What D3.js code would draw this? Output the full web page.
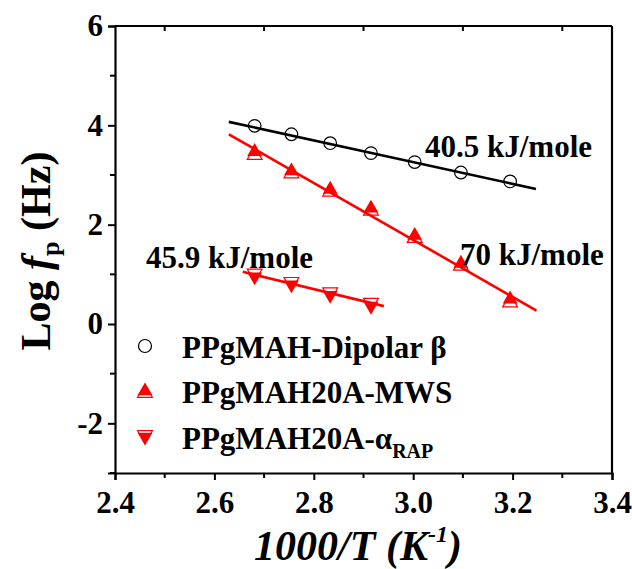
<!DOCTYPE html>
<html>
<head>
<meta charset="utf-8">
<script src="https://cdn.jsdelivr.net/npm/d3@7"></script>
<style>
  html, body { margin: 0; padding: 0; background: #fff; }
  svg { display: block; }
  text { font-family: "Liberation Serif", "Times New Roman", serif; font-weight: bold; }
</style>
</head>
<body>
<svg id="chart" width="632" height="569"></svg>
<script>
// ---- data ----
const invT = [2.681, 2.755, 2.833, 2.915, 3.003, 3.096, 3.195];
const dipolarBeta = [3.99, 3.82, 3.64, 3.44, 3.26, 3.05, 2.87];
const mwsFilled = [3.47, 3.08, 2.71, 2.33, 1.78, 1.22, 0.50];
const mwsOpen = [3.40, 3.03, 2.66, 2.28, 1.73, 1.17, 0.43];
const invTRap = [2.681, 2.755, 2.833, 2.915];
const rapFilled = [0.95, 0.79, 0.58, 0.36];
const rapOpen = [1.02, 0.85, 0.64, 0.43];
const fitBetaX = [2.629, 3.247];
const fitBetaY = [4.07, 2.72];
const fitMwsX = [2.629, 3.248];
const fitMwsY = [3.82, 0.27];
const fitRapX = [2.657, 2.941];
const fitRapY = [1.05, 0.36];
const xTicks = [2.4, 2.6, 2.8, 3.0, 3.2, 3.4];
const yTicks = [-2, 0, 2, 4, 6];
const legendLabels = ["PPgMAH-Dipolar β", "PPgMAH20A-MWS", "PPgMAH20A-α"];
const annotationTexts = ["40.5 kJ/mole", "70 kJ/mole", "45.9 kJ/mole"];

const svg = d3.select("#chart");
const x = d3.scaleLinear().domain([2.4, 3.4]).range([115, 612]);
const y = d3.scaleLinear().domain([-3, 6]).range([473, 26]);
const red = "#ff0000";
const FS = 31;

// frame top & right
svg.append("line").attr("x1", 115).attr("x2", 612).attr("y1", y(6)).attr("y2", y(6))
  .attr("stroke", "#000").attr("stroke-width", 2.2);
svg.append("line").attr("x1", 612).attr("x2", 612).attr("y1", y(6)).attr("y2", y(-3))
  .attr("stroke", "#000").attr("stroke-width", 2.2);

// top ticks (inward, odd tenths)
svg.append("g").selectAll("line").data(d3.range(2.5, 3.35, 0.2)).join("line")
  .attr("x1", d => x(d)).attr("x2", d => x(d)).attr("y1", y(6)).attr("y2", y(6) + 5)
  .attr("stroke", "#000").attr("stroke-width", 2);

// bottom axis
const xAxis = d3.axisBottom(x).tickValues(xTicks).tickFormat(d3.format(".1f")).tickSize(7).tickPadding(11);
const gx = svg.append("g").attr("transform", `translate(0,${y(-3)})`).call(xAxis);
gx.select(".domain").attr("stroke-width", 2.2);
gx.selectAll(".tick line").attr("stroke-width", 2);
gx.selectAll("text").attr("font-size", FS).attr("font-family", "Liberation Serif").attr("font-weight", "bold").attr("fill", "#000");
svg.append("g").selectAll("line").data(d3.range(2.5, 3.35, 0.2)).join("line")
  .attr("x1", d => x(d)).attr("x2", d => x(d)).attr("y1", y(-3)).attr("y2", y(-3) + 5)
  .attr("stroke", "#000").attr("stroke-width", 2);

// left axis
const yAxis = d3.axisLeft(y).tickValues(yTicks).tickFormat(d => String(d)).tickSize(7).tickPadding(5);
const gy = svg.append("g").attr("transform", `translate(115,0)`).call(yAxis);
gy.select(".domain").attr("stroke-width", 2.2);
gy.selectAll(".tick line").attr("stroke-width", 2);
gy.selectAll("text").attr("font-size", FS).attr("font-family", "Liberation Serif").attr("font-weight", "bold").attr("fill", "#000");
svg.append("g").selectAll("line").data([-3, -1, 1, 3, 5]).join("line")
  .attr("x1", 115).attr("x2", 110).attr("y1", d => y(d)).attr("y2", d => y(d))
  .attr("stroke", "#000").attr("stroke-width", 2);

// fit lines
const line = d3.line().x(d => x(d[0])).y(d => y(d[1]));
svg.append("path").attr("d", line(d3.zip(fitBetaX, fitBetaY))).attr("stroke", "#000").attr("stroke-width", 2.6).attr("fill", "none");
svg.append("path").attr("d", line(d3.zip(fitMwsX, fitMwsY))).attr("stroke", red).attr("stroke-width", 2.6).attr("fill", "none");
svg.append("path").attr("d", line(d3.zip(fitRapX, fitRapY))).attr("stroke", red).attr("stroke-width", 2.6).attr("fill", "none");

const tri = d3.symbol().type(d3.symbolTriangle).size(95);

// markers
svg.append("g").selectAll("circle").data(d3.zip(invT, dipolarBeta)).join("circle")
  .attr("cx", d => x(d[0])).attr("cy", d => y(d[1])).attr("r", 6.3)
  .attr("fill", "none").attr("stroke", "#000").attr("stroke-width", 1.2);
svg.append("g").selectAll("path").data(d3.zip(invT, mwsOpen)).join("path")
  .attr("d", tri()).attr("transform", d => `translate(${x(d[0])},${y(d[1])})`)
  .attr("fill", "none").attr("stroke", red).attr("stroke-width", 1.2);
svg.append("g").selectAll("path").data(d3.zip(invT, mwsFilled)).join("path")
  .attr("d", tri()).attr("transform", d => `translate(${x(d[0])},${y(d[1])})`)
  .attr("fill", red);
svg.append("g").selectAll("path").data(d3.zip(invTRap, rapOpen)).join("path")
  .attr("d", tri()).attr("transform", d => `translate(${x(d[0])},${y(d[1])}) rotate(180)`)
  .attr("fill", "none").attr("stroke", red).attr("stroke-width", 1.2);
svg.append("g").selectAll("path").data(d3.zip(invTRap, rapFilled)).join("path")
  .attr("d", tri()).attr("transform", d => `translate(${x(d[0])},${y(d[1])}) rotate(180)`)
  .attr("fill", red);

// annotations
const annPos = [[425, 157], [460, 265], [146, 268]];
annotationTexts.forEach((t, i) => {
  svg.append("text").attr("x", annPos[i][0]).attr("y", annPos[i][1]).attr("font-size", FS).text(t);
});

// legend
const lg = svg.append("g");
const rows = [346, 391, 437];
lg.append("circle").attr("cx", 145).attr("cy", rows[0]).attr("r", 6.5).attr("fill", "none").attr("stroke", "#000").attr("stroke-width", 1.2);
lg.append("path").attr("d", tri()).attr("transform", `translate(145,${rows[1] + 2})`).attr("fill", "none").attr("stroke", red).attr("stroke-width", 1.2);
lg.append("path").attr("d", tri()).attr("transform", `translate(145,${rows[1]})`).attr("fill", red);
lg.append("path").attr("d", tri()).attr("transform", `translate(145,${rows[2] - 2}) rotate(180)`).attr("fill", "none").attr("stroke", red).attr("stroke-width", 1.2);
lg.append("path").attr("d", tri()).attr("transform", `translate(145,${rows[2]}) rotate(180)`).attr("fill", red);
legendLabels.forEach((t, i) => {
  const tx = lg.append("text").attr("x", 182).attr("y", rows[i] + 12).attr("font-size", FS).text(t);
  if (i === 2) tx.append("tspan").attr("font-size", 20).attr("dy", 9).text("RAP");
});

// y label
const yl = svg.append("text").attr("transform", "translate(50,251) rotate(-90)").attr("text-anchor", "middle").attr("font-size", 42);
yl.append("tspan").text("Log ");
yl.append("tspan").attr("font-style", "italic").text("f");
yl.append("tspan").attr("font-size", 26).attr("dy", 9).text("p");
yl.append("tspan").attr("dy", -9).text(" (Hz)");

// x label
const xl = svg.append("text").attr("x", 358).attr("y", 560).attr("text-anchor", "middle").attr("font-size", 42).attr("font-style", "italic");
xl.append("tspan").text("1000/T (K");
xl.append("tspan").attr("font-size", 24).attr("dy", -18).text("-1");
xl.append("tspan").attr("dy", 18).text(")");
</script>
</body>
</html>
